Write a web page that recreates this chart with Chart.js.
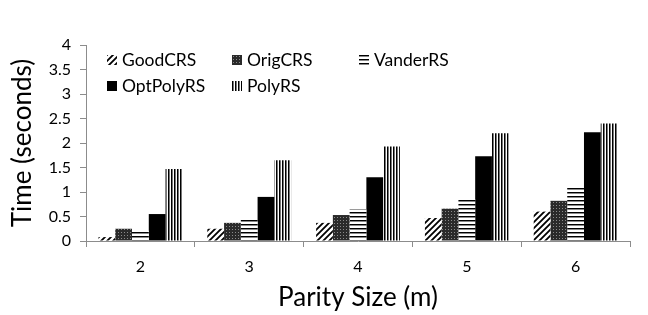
<!DOCTYPE html>
<html>
<head>
<meta charset="utf-8">
<script src="https://cdn.jsdelivr.net/npm/chart.js@4"></script>
<style>
  html, body { margin: 0; padding: 0; background: #fff; }
  #wrap { position: relative; width: 648px; height: 315px; }
  #legend { position: absolute; left: 0; top: 0; font-family: Lato, sans-serif; font-size: 17.5px; color: #000; }
  .item { position: absolute; display: flex; align-items: center; white-space: nowrap; line-height: 20px; }
  .item canvas { margin-right: 5px; }
</style>
</head>
<body>
<div id="wrap">
  <canvas id="c" width="648" height="315"></canvas>
  <div id="legend"></div>
</div>
<script>
// dados (tempo em segundos por tamanho de paridade m)
const categories = ['2', '3', '4', '5', '6'];
const seriesNames = ['GoodCRS', 'OrigCRS', 'VanderRS', 'OptPolyRS', 'PolyRS'];
const goodCRS = [0.08, 0.25, 0.37, 0.47, 0.60];
const origCRS = [0.25, 0.37, 0.53, 0.66, 0.82];
const vanderRS = [0.21, 0.43, 0.65, 0.86, 1.09];
const optPolyRS = [0.55, 0.90, 1.30, 1.73, 2.22];
const polyRS = [1.47, 1.65, 1.93, 2.20, 2.40];
const yTickLabels = ['0', '0.5', '1', '1.5', '2', '2.5', '3', '3.5', '4'];

const seriesData = [goodCRS, origCRS, vanderRS, optPolyRS, polyRS];
const patternKinds = ['diag', 'dense', 'horiz', 'solid', 'vert'];

// padrões de preenchimento (tipo hachura do Excel)
function makePattern(ctx, kind) {
  if (kind === 'solid') return '#000';
  const t = document.createElement('canvas');
  const g = t.getContext('2d');
  if (kind === 'diag') {
    t.width = 6; t.height = 6;
    g.fillStyle = '#fff'; g.fillRect(0, 0, 6, 6);
    g.strokeStyle = '#000'; g.lineWidth = 1.8;
    g.beginPath();
    g.moveTo(-1, 7); g.lineTo(7, -1);
    g.moveTo(-4, 4); g.lineTo(4, -4);
    g.moveTo(2, 10); g.lineTo(10, 2);
    g.stroke();
  } else if (kind === 'dense') {
    t.width = 3; t.height = 3;
    g.fillStyle = '#2a2a2a'; g.fillRect(0, 0, 3, 3);
    g.fillStyle = '#8a8a8a'; g.fillRect(1, 1, 1, 1);
  } else if (kind === 'horiz') {
    t.width = 4; t.height = 4;
    g.fillStyle = '#fff'; g.fillRect(0, 0, 4, 4);
    g.fillStyle = '#000'; g.fillRect(0, 0, 4, 1);
    g.fillStyle = '#888'; g.fillRect(0, 1, 4, 1);
  } else if (kind === 'vert') {
    t.width = 3; t.height = 3;
    g.fillStyle = '#fff'; g.fillRect(0, 0, 3, 3);
    g.fillStyle = '#000'; g.fillRect(0, 0, 1, 3);
    g.fillStyle = '#777'; g.fillRect(1, 0, 1, 3);
  }
  return ctx.createPattern(t, 'repeat');
}

const ctx = document.getElementById('c').getContext('2d');
const FONT = 'Lato, sans-serif';
const axisColor = '#8c8c8c';

const datasets = seriesNames.map((name, i) => ({
  label: name,
  data: seriesData[i],
  backgroundColor: makePattern(ctx, patternKinds[i]),
  borderWidth: 0,
  categoryPercentage: 0.77,
  barPercentage: 1.0
}));

new Chart(ctx, {
  type: 'bar',
  data: { labels: categories, datasets },
  options: {
    responsive: false,
    animation: false,
    devicePixelRatio: 1,
    layout: { padding: { top: 45, right: 18, left: 0, bottom: 0 } },
    plugins: { legend: { display: false }, tooltip: { enabled: false } },
    scales: {
      x: {
        grid: { display: true, drawOnChartArea: false, drawTicks: true, tickLength: 6, color: axisColor, offset: true },
        border: { display: true, color: axisColor },
        ticks: { color: '#000', font: { family: FONT, size: 16 }, padding: 10 },
        title: { display: true, text: 'Parity Size (m)', color: '#000', font: { family: FONT, size: 26 }, padding: { bottom: 2 } },
        afterFit: s => { s.height = 74; }
      },
      y: {
        min: 0, max: 4,
        grid: { display: true, drawOnChartArea: false, drawTicks: true, tickLength: 6, color: axisColor },
        border: { display: true, color: axisColor },
        ticks: {
          stepSize: 0.5, color: '#000', font: { family: FONT, size: 16 }, padding: 9,
          callback: (v, i) => yTickLabels[i]
        },
        title: { display: true, text: 'Time (seconds)', color: '#000', font: { family: FONT, size: 26 }, padding: { top: 7 } },
        afterFit: s => { s.width = 86; }
      }
    }
  }
});

// legenda em 3 colunas dentro da área do gráfico
const legendPos = [[107, 60], [232, 60], [359, 60], [107, 86], [232, 86]];
const legend = document.getElementById('legend');
seriesNames.forEach((name, i) => {
  const item = document.createElement('div');
  item.className = 'item';
  item.style.left = legendPos[i][0] + 'px';
  item.style.top = (legendPos[i][1] - 10) + 'px';
  const sw = document.createElement('canvas');
  sw.width = 10; sw.height = 10;
  const sctx = sw.getContext('2d');
  sctx.fillStyle = makePattern(sctx, patternKinds[i]);
  sctx.fillRect(0, 0, 10, 10);
  item.appendChild(sw);
  item.appendChild(document.createTextNode(name));
  legend.appendChild(item);
});
</script>
</body>
</html>
